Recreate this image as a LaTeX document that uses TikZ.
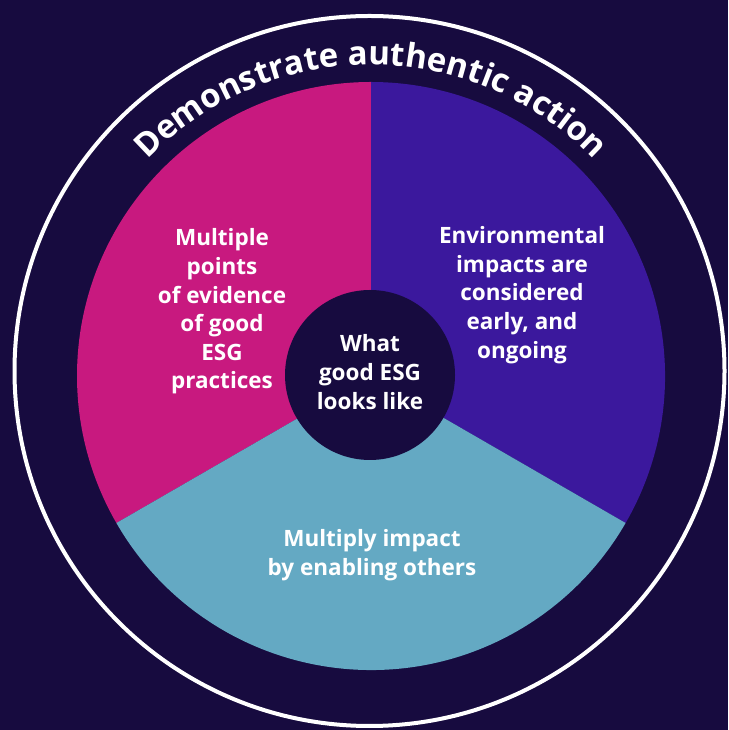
\documentclass[tikz,border=0pt]{standalone}
\usepackage{fontspec}
\setmainfont{Open Sans}
\usetikzlibrary{decorations.text}
\definecolor{bgx}{HTML}{170B3F}
\definecolor{magx}{HTML}{C8197F}
\definecolor{purx}{HTML}{3B189D}
\definecolor{tealx}{HTML}{64A9C3}
\tikzset{
  lbl/.style={align=center, text=white, font=\fontsize{22.5}{28.6}\selectfont\bfseries, inner sep=0pt}
}
\begin{document}
\begin{tikzpicture}[x=1pt,y=1pt]
\useasboundingbox (0,0) rectangle (728,730);
\fill[bgx] (0,0) rectangle (728,730);
\coordinate (c) at (371,354);
\draw[white, line width=4] (369.5,359) circle[radius=355];
\fill[magx] (c) -- ++(90:294) arc[start angle=90,end angle=210,radius=294] -- cycle;
\fill[purx] (c) -- ++(-30:294) arc[start angle=-30,end angle=90,radius=294] -- cycle;
\fill[tealx] (c) -- ++(210:294) arc[start angle=210,end angle=330,radius=294] -- cycle;
\fill[bgx] (370,355) circle[radius=85];
\path[decorate, decoration={text along path, text align=center, text color=white,
  text={|\fontsize{33}{34}\selectfont\bfseries|Demonstrate authentic action}}]
  (c) ++(165:311) arc[start angle=165, end angle=15, radius=311];
\node[lbl] (left) at (222,418.5) {Multiple\\points\\of evidence\\of good\\ESG\\practices};
\node[lbl] (right) at (522,435) {Environmental\\impacts are\\considered\\early, and\\ongoing};
\node[lbl] (bottom) at (372,175) {Multiply impact\\by enabling others};
\node[lbl] (centre) at (370,358) {What\\good ESG\\looks like};
\end{tikzpicture}
\end{document}
